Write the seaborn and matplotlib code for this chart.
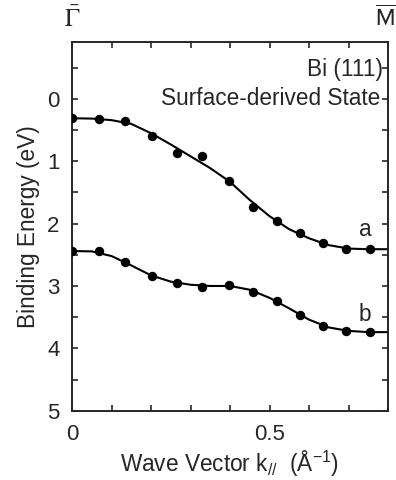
import matplotlib
matplotlib.use("Agg")
import matplotlib.pyplot as plt
import seaborn as sns
import pandas as pd
from matplotlib.ticker import FixedLocator, MultipleLocator

# ---- data ----
k_pts = [0.0, 0.068, 0.135, 0.202, 0.267, 0.330, 0.397, 0.457, 0.520, 0.577, 0.636, 0.694, 0.754]
E_a_pts = [0.31, 0.32, 0.35, 0.60, 0.875, 0.92, 1.32, 1.74, 1.955, 2.15, 2.31, 2.41, 2.41]
E_b_pts = [2.44, 2.445, 2.62, 2.84, 2.96, 3.01, 2.985, 3.09, 3.24, 3.47, 3.64, 3.72, 3.74]

k_fit = [0.0, 0.05, 0.10, 0.15, 0.20, 0.25, 0.30, 0.35, 0.40, 0.45, 0.50, 0.55, 0.60, 0.65, 0.70, 0.75, 0.80]
E_a_fit = [0.31, 0.315, 0.34, 0.40, 0.55, 0.73, 0.92, 1.11, 1.33, 1.62, 1.88, 2.09, 2.235, 2.345, 2.40, 2.41, 2.41]
E_b_fit = [2.44, 2.445, 2.52, 2.67, 2.83, 2.93, 2.98, 3.00, 3.00, 3.06, 3.19, 3.36, 3.54, 3.665, 3.72, 3.74, 3.74]

curve_labels = ["a", "b"]
label_pos = [(0.742, 2.10), (0.742, 3.45)]

x_major = [0.0, 0.5]
x_major_labels = ["0", "0.5"]
y_major = [0, 1, 2, 3, 4, 5]

sns.set_style("ticks")
plt.rcParams["font.family"] = ["Liberation Sans", "DejaVu Sans"]
plt.rcParams["mathtext.fontset"] = "custom"
plt.rcParams["mathtext.rm"] = "Liberation Sans"
plt.rcParams["mathtext.it"] = "Liberation Sans:italic"

FS = 16.3

fig = plt.figure(figsize=(3.96, 4.80), dpi=100)
ax = fig.add_axes([72 / 396, 1 - 411 / 480, (388 - 72) / 396, (411 - 42) / 480])

df_pts = pd.DataFrame({
    "k": k_pts * 2,
    "E": E_a_pts + E_b_pts,
    "band": ["a"] * len(k_pts) + ["b"] * len(k_pts),
})
df_fit = pd.DataFrame({
    "k": k_fit * 2,
    "E": E_a_fit + E_b_fit,
    "band": ["a"] * len(k_fit) + ["b"] * len(k_fit),
})

sns.lineplot(data=df_fit, x="k", y="E", units="band", estimator=None,
             color="black", lw=1.5, ax=ax, legend=False, sort=False)
sns.scatterplot(data=df_pts, x="k", y="E", color="black", s=46,
                edgecolor="black", linewidth=0, ax=ax, legend=False, zorder=3)

ax.set_xlim(0, 0.8)
ax.set_ylim(5.005, -0.913)

ax.xaxis.set_major_locator(FixedLocator(x_major))
ax.set_xticklabels(x_major_labels)
ax.xaxis.set_minor_locator(MultipleLocator(0.1))
ax.yaxis.set_major_locator(FixedLocator(y_major))
ax.yaxis.set_minor_locator(MultipleLocator(0.5))

ax.tick_params(axis="both", which="both", direction="in", top=True, right=True,
               length=4, width=1.2, labelsize=16, pad=9)
for sp in ax.spines.values():
    sp.set_linewidth(1.4)

ax.set_xlabel(r"Wave Vector k$_{//}$  (Å$^{-1}$)", fontsize=FS, labelpad=3)
ax.set_ylabel("Binding Energy (eV)", fontsize=FS, labelpad=5)

ax.text(0.983, 0.925, "Bi (111)", transform=ax.transAxes, ha="right", va="center", fontsize=FS)
ax.text(0.975, 0.846, "Surface-derived State", transform=ax.transAxes, ha="right", va="center", fontsize=FS)

for lab, (x, y) in zip(curve_labels, label_pos):
    ax.text(x, y, lab, ha="center", va="center", fontsize=FS)

fig.text(72.5 / 396, 1 - 19 / 480, r"$\bar{\Gamma}$", ha="center", va="center",
         fontsize=18, math_fontfamily="stix")
fig.text(386 / 396, 1 - 19 / 480, r"$\overline{\mathrm{M}}$", ha="center", va="center",
         fontsize=16.5, math_fontfamily="stixsans")

fig.savefig("out.png", dpi=100)
